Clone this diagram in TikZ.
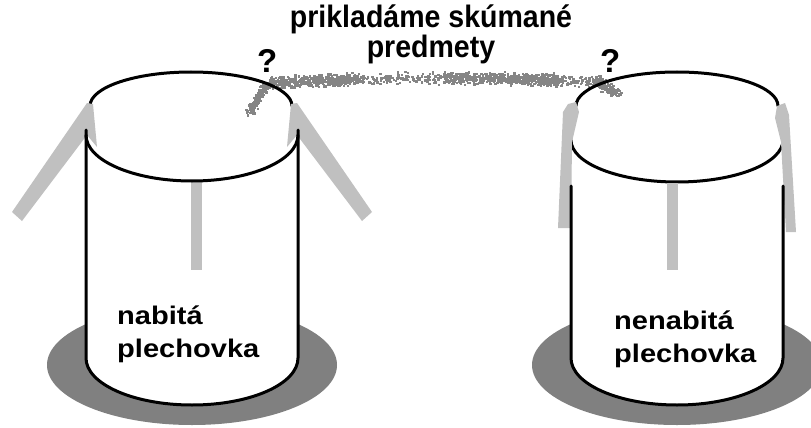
\documentclass[tikz,border=0pt]{standalone}
\usepackage{fontspec}
\setmainfont{Liberation Sans}
\newfontfamily\canfont{Liberation Sans}[FakeStretch=1.14]
\newfontfamily\headfont{Liberation Sans}[FakeStretch=0.92]
\usetikzlibrary{positioning}
\definecolor{leafgray}{HTML}{C0C0C0}
\definecolor{floorgray}{HTML}{808080}
\definecolor{dustgray}{HTML}{858585}
\tikzset{
	rim/.style = {line width=3pt, line cap=round},
	leaf/.style = {fill=leafgray},
	floor/.style = {fill=floorgray},
	dust/.style = {fill=dustgray},
	canlabel/.style = {inner sep=0pt, align=left, font=\canfont\bfseries\fontsize{25.5}{33}\selectfont},
	headlabel/.style = {inner sep=0pt, align=center, font=\headfont\bfseries\fontsize{31}{22.5}\selectfont},
	query/.style = {inner sep=0pt, font=\bfseries\fontsize{33}{33}\selectfont}
}

\begin{document}
\begin{tikzpicture}[x=1pt, y=-1pt]
	\useasboundingbox (0,0) rectangle (811,428);
	\clip (0,0) rectangle (811,428);

	% shadows on the floor
	\fill[floor] (192,365) ellipse [x radius=145, y radius=60];
	\fill[floor] (677,365) ellipse [x radius=145, y radius=60];

	% trail of the objects carried from can to can
	\pgfmathsetseed{12}
	\foreach \xa/\xb/\n in {267/357/480, 357/443/150, 443/563/600, 563/602/80}{
		\foreach \i in {1,...,\n}{
			\pgfmathsetmacro{\sx}{\xa+(\xb-\xa)*rnd}
			\pgfmathsetmacro{\sy}{82-5*sin((\sx-265)/355*180)+7*(rnd+rnd-1)}
			\fill[dust] (\sx,\sy) rectangle ++(2.3,2.3);
		}
	}
	\foreach \i in {1,...,170}{
		\pgfmathsetmacro{\pos}{rnd}
		\pgfmathsetmacro{\sx}{248+18*\pos+5*(rnd+rnd-1)}
		\pgfmathsetmacro{\sy}{112-28*\pos+5*(rnd+rnd-1)}
		\fill[dust] (\sx,\sy) rectangle ++(2.3,2.3);
	}
	\foreach \i in {1,...,140}{
		\pgfmathsetmacro{\pos}{rnd}
		\pgfmathsetmacro{\sx}{596+20*\pos+6*(rnd+rnd-1)}
		\pgfmathsetmacro{\sy}{80+13*\pos+6*(rnd+rnd-1)}
		\fill[dust] (\sx,\sy) rectangle ++(2.3,2.3);
	}

	% charged can
	\fill[white] (86,135) -- (86,358) arc[start angle=180, end angle=0, x radius=106, y radius=47] -- (298,135) -- cycle;
	\draw[rim] (90,106) arc[start angle=180, end angle=360, x radius=101, y radius=34];
	\fill[leaf] (12,212) -- (87,103) -- (93,104) -- (97,147) -- (87,135) -- (22,221) -- cycle;
	\fill[leaf] (372,212) -- (297,103) -- (291,104) -- (287,147) -- (297,135) -- (362,221) -- cycle;
	\fill[leaf] (191,181) rectangle (202,270);
	\draw[rim] (86,130) -- (86,358) arc[start angle=180, end angle=0, x radius=106, y radius=47] -- (298,130);
	\draw[rim] (86,135) arc[start angle=180, end angle=0, x radius=106, y radius=46];

	% uncharged can
	\fill[white] (571,140) -- (571,358) arc[start angle=180, end angle=0, x radius=106, y radius=47] -- (783,140) -- cycle;
	\draw[rim] (576,106) arc[start angle=180, end angle=360, x radius=101, y radius=34];
	\draw[rim] (571,140) arc[start angle=180, end angle=0, x radius=106, y radius=42];
	\fill[leaf] (568,104) -- (576,102) -- (579,112) -- (572,142) -- (571,228) -- (558,228) -- (563,112) -- cycle;
	\fill[leaf] (777,106) -- (785,103) -- (789,115) -- (796,232) -- (786,232) -- (781,142) -- (775,118) -- cycle;
	\fill[leaf] (667,183) rectangle (678,270);
	\draw[rim] (571,186) -- (571,358) arc[start angle=180, end angle=0, x radius=106, y radius=47] -- (783,186);

	% labels
	\node[canlabel, anchor=base west] (charged) at (117,357) {nabitá\\plechovka};
	\node[canlabel, anchor=base west] (neutral) at (614,362) {nenabitá\\plechovka};
	\node[headlabel, anchor=base] (objects) at (431,57.5) {prikladáme skúmané\\predmety};
	\node[query, anchor=base west] (qleft) at (257,72) {?};
	\node[query, anchor=base west] (qright) at (600,73) {?};
\end{tikzpicture}
\end{document}
